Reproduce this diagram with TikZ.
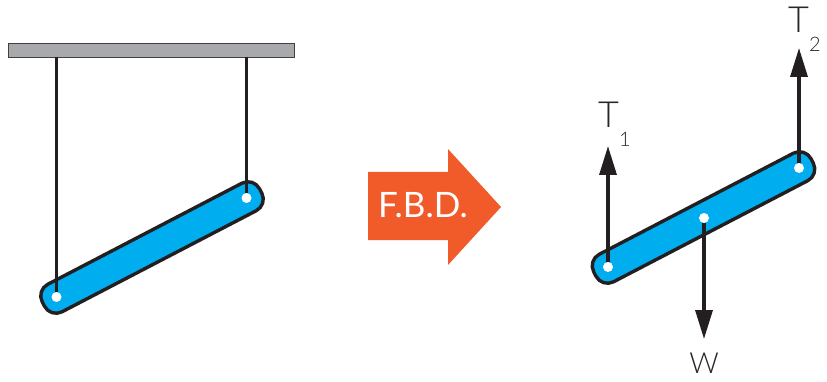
\documentclass[tikz,border=0pt]{standalone}
\usepackage{fontspec}
\usepackage{xcolor}
\usetikzlibrary{arrows.meta}
\setmainfont{Lato Light}
\newfontfamily\fbdfont{Lato}
\definecolor{barblue}{HTML}{00AEEF}
\definecolor{fbdorange}{HTML}{F15A29}
\definecolor{ceilgray}{HTML}{A7A9AC}
\definecolor{inkdark}{HTML}{231F20}
\newcommand{\forcename}[1]{T\raisebox{-18.5pt}{\fontsize{20}{20}\selectfont #1}}
\tikzset{
  bar/.style={draw=inkdark, line width=3.4pt, fill=barblue, rectangle, rounded corners=13pt,
    minimum width=245pt, minimum height=31pt, rotate=27.5, inner sep=0pt},
  hole/.style={circle, fill=white, minimum size=10pt, inner sep=0pt},
  string/.style={draw=inkdark, line width=3.2pt},
  force/.style={draw=inkdark, line width=3.4pt, -{Triangle[length=29pt,width=17pt]}},
  label/.style={text=black!85, inner sep=0pt, font=\fontsize{36}{36}\selectfont}
}
\begin{document}
\begin{tikzpicture}[x=1pt,y=-1pt]
    \useasboundingbox (0,0) rectangle (827,382);

    % hanging bar
    \node[draw=black!75, line width=1.8pt, fill=ceilgray, minimum width=286pt, minimum height=14pt, inner sep=0pt] (ceil) at (151.5,50.5) {};
    \node[bar] (bar1) at (152,247.5) {};
    \node[hole] (p1) at (56.5,297) {};
    \node[hole] (p2) at (246.5,198) {};
    \coordinate (c1) at (56.5,57);
    \coordinate (c2) at (246.5,57);
    \draw[string] (c1) -- (p1);
    \draw[string] (c2) -- (p2);

    % arrow
    \fill[fbdorange] (368,172) -- (448,172) -- (448,149) -- (501,207) -- (448,265) -- (448,240) -- (368,240) -- cycle;
    \node[text=white, inner sep=0pt, font=\fbdfont\fontsize{35}{35}\selectfont] (fbd) at (423,205) {F.B.D.};

    % free body
    \node[bar] (bar2) at (703.5,217.5) {};
    \node[hole] (q1) at (608,267) {};
    \node[hole] (q2) at (799,168) {};
    \node[hole] (q3) at (704,218) {};
    \coordinate (f1) at (608,146);
    \coordinate (f2) at (799,48);
    \coordinate (f3) at (704,339);
    \draw[force] (q1) -- (f1);
    \draw[force] (q2) -- (f2);
    \draw[force] (q3) -- (f3);

    \node[label, anchor=base west] (t1) at (598,128) {\forcename{1}};
    \node[label, anchor=base west] (t2) at (788,33) {\forcename{2}};
    \node[label, anchor=base, font=\fontsize{29}{29}\selectfont] (w) at (704,373) {W};
\end{tikzpicture}
\end{document}
